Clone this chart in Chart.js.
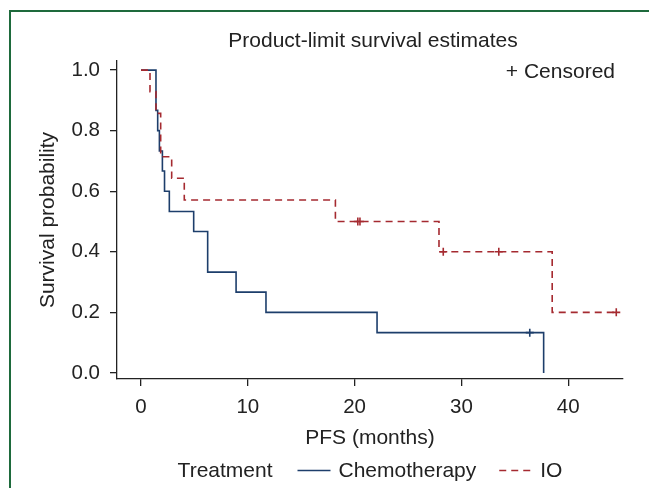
<!DOCTYPE html>
<html>
<head>
<meta charset="utf-8">
<script src="https://cdn.jsdelivr.net/npm/chart.js@4.4.1/dist/chart.umd.min.js"></script>
<style>
  body { margin: 0; background: #fff; }
  #wrap { position: relative; width: 649px; height: 488px; overflow: hidden; }
  #frame { position: absolute; left: 9px; top: 10px; width: 660px; height: 500px;
           border-left: 2px solid #1e6a3c; border-top: 2px solid #1e6a3c; }
  canvas { position: absolute; left: 0; top: 0; }
</style>
</head>
<body>
<div id="wrap">
  <div id="frame"></div>
  <canvas id="km" width="649" height="488"></canvas>
</div>
<script>
'use strict';
// Kaplan-Meier steps
let chemoTimes = [0, 1.4, 1.56, 1.72, 2.0, 2.2, 2.65, 4.93, 6.24, 8.9, 11.7, 22.1, 37.7];
let chemoSurv = [1, 0.867, 0.8, 0.733, 0.667, 0.6, 0.533, 0.467, 0.333, 0.267, 0.2, 0.133, 0];
let chemoCensorTimes = [36.4];
let chemoCensorSurv = [0.133];

let ioTimes = [0, 0.84, 1.4, 1.84, 2.87, 4.05, 18.2, 27.9, 38.5, 44.5];
let ioSurv = [1, 0.929, 0.857, 0.714, 0.643, 0.571, 0.5, 0.4, 0.2, 0.2];
let ioCensorTimes = [20.3, 20.5, 28.3, 33.5, 44.5];
let ioCensorSurv = [0.5, 0.5, 0.4, 0.4, 0.2];

let xTicks = [0, 10, 20, 30, 40];
let yTicks = [0, 0.2, 0.4, 0.6, 0.8, 1.0];

let seriesNames = ['Chemotherapy', 'IO'];
let blue = '#1d3e6b';
let red = '#a52a30';
let textColor = '#222';
let fontFamily = '"Liberation Sans", Arial, sans-serif';

function toPoints(xs, ys) {
    let pts = [];
    for (let i = 0; i < xs.length; i++) {
        pts.push({ x: xs[i], y: ys[i] });
    }
    return pts;
}

const overlay = {
    id: 'overlay',
    afterDraw(chart) {
        const ctx = chart.ctx;
        const area = chart.chartArea;
        const cx = (area.left + area.right) / 2;
        ctx.save();
        ctx.font = '21px ' + fontFamily;
        ctx.fillStyle = textColor;
        ctx.textBaseline = 'alphabetic';

        ctx.textAlign = 'center';
        ctx.fillText('Product-limit survival estimates', cx + 3, 47);

        ctx.textAlign = 'right';
        ctx.fillText('+ Censored', area.right - 8, 78);

        // legend row
        let wT = ctx.measureText('Treatment').width;
        let wC = ctx.measureText(seriesNames[0]).width;
        let wI = ctx.measureText(seriesNames[1]).width;
        let lineLen = 33;
        let total = wT + 25 + lineLen + 8 + wC + 23 + lineLen + 8 + wI;
        let x = cx - total / 2;
        let base = 477;
        let ly = 470.5;
        ctx.textAlign = 'left';
        ctx.fillText('Treatment', x, base);
        x += wT + 25;
        ctx.lineWidth = 1.6;
        ctx.strokeStyle = blue;
        ctx.beginPath(); ctx.moveTo(x, ly); ctx.lineTo(x + lineLen, ly); ctx.stroke();
        x += lineLen + 8;
        ctx.fillText(seriesNames[0], x, base);
        x += wC + 23;
        ctx.strokeStyle = red;
        ctx.setLineDash([7, 5]);
        ctx.beginPath(); ctx.moveTo(x, ly); ctx.lineTo(x + lineLen, ly); ctx.stroke();
        ctx.setLineDash([]);
        x += lineLen + 8;
        ctx.fillText(seriesNames[1], x, base);
        ctx.restore();
    }
};

new Chart(document.getElementById('km'), {
    type: 'scatter',
    data: {
        datasets: [{
            label: seriesNames[1],
            data: toPoints(ioTimes, ioSurv),
            showLine: true,
            stepped: 'before',
            borderColor: red,
            borderWidth: 1.6,
            borderDash: [7, 5],
            pointRadius: 0,
            order: 0
        }, {
            label: seriesNames[0],
            data: toPoints(chemoTimes, chemoSurv),
            showLine: true,
            stepped: 'before',
            borderColor: blue,
            borderWidth: 1.6,
            pointRadius: 0,
            order: 1
        }, {
            label: 'IO censored',
            data: toPoints(ioCensorTimes, ioCensorSurv),
            pointStyle: 'cross',
            pointRadius: 4,
            borderColor: red,
            borderWidth: 1.6,
            order: 0
        }, {
            label: 'Chemotherapy censored',
            data: toPoints(chemoCensorTimes, chemoCensorSurv),
            pointStyle: 'cross',
            pointRadius: 4,
            borderColor: blue,
            borderWidth: 1.6,
            order: 1
        }]
    },
    options: {
        responsive: false,
        devicePixelRatio: 1,
        animation: false,
        layout: { padding: { left: 0, right: 26, top: 61, bottom: 0 } },
        plugins: {
            legend: { display: false },
            title: { display: false },
            tooltip: { enabled: false }
        },
        scales: {
            x: {
                type: 'linear',
                min: -2.25,
                max: 45.13,
                afterBuildTicks: (scale) => { scale.ticks = xTicks.map(v => ({ value: v })); },
                afterFit: (scale) => { scale.height = 109; },
                ticks: {
                    color: textColor,
                    padding: 9,
                    font: { size: 20.5, family: fontFamily },
                    callback: (v) => String(v)
                },
                grid: { drawOnChartArea: false, drawTicks: true, tickLength: 7, color: '#222', lineWidth: 1.3 },
                border: { display: true, color: '#222', width: 1.3 },
                title: {
                    display: true,
                    text: 'PFS (months)',
                    color: textColor,
                    font: { size: 21, family: fontFamily },
                    padding: { top: 0, bottom: 37 }
                }
            },
            y: {
                type: 'linear',
                min: -0.02,
                max: 1.03,
                afterBuildTicks: (scale) => { scale.ticks = yTicks.map(v => ({ value: v })); },
                afterFit: (scale) => { scale.width = 117; },
                ticks: {
                    color: textColor,
                    padding: 10,
                    font: { size: 20.5, family: fontFamily },
                    callback: (v) => Number(v).toFixed(1)
                },
                grid: { drawOnChartArea: false, drawTicks: true, tickLength: 7, color: '#222', lineWidth: 1.3 },
                border: { display: true, color: '#222', width: 1.3 },
                title: {
                    display: true,
                    text: 'Survival probability',
                    color: textColor,
                    font: { size: 21, family: fontFamily },
                    padding: { top: 36, bottom: 0 }
                }
            }
        }
    },
    plugins: [overlay]
});
</script>
</body>
</html>
